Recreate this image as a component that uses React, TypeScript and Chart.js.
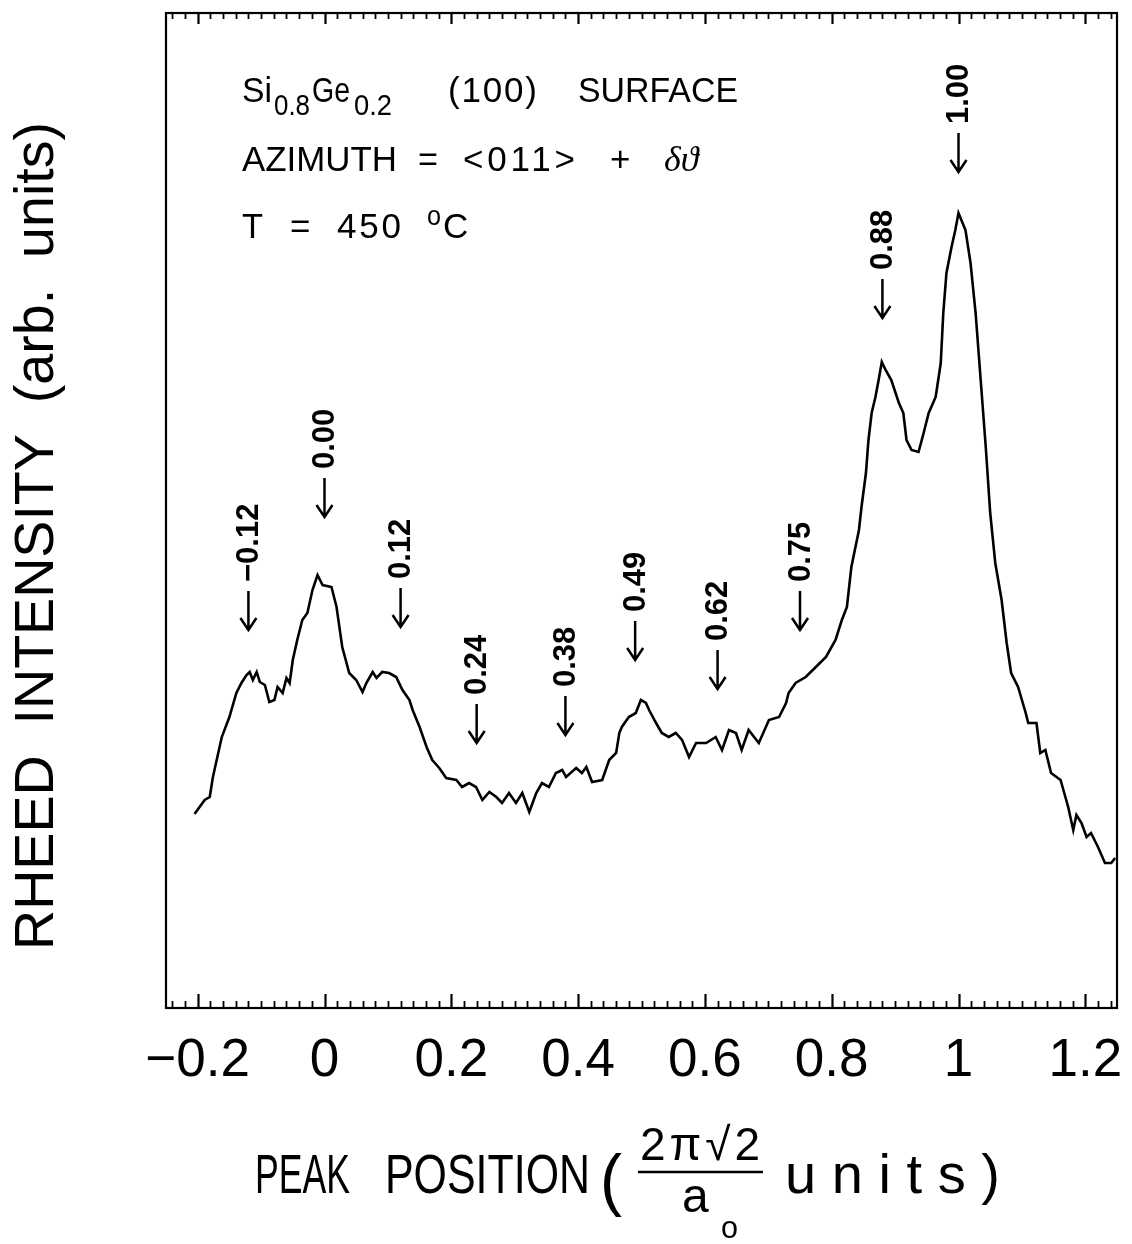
import React, { useEffect, useRef } from "react";
import { Chart, registerables } from "chart.js";

Chart.register(...registerables);

// Peak position (2π√2/a0 units)
const positionX = [
  -0.205, -0.189, -0.181, -0.176, -0.162, -0.15, -0.139, -0.131, -0.123, -0.118,
  -0.113, -0.107, -0.102, -0.094, -0.087, -0.079, -0.074, -0.066, -0.06, -0.055,
  -0.05, -0.043, -0.035, -0.027, -0.019, -0.011, -0.003, 0.011, 0.019, 0.028,
  0.039, 0.05, 0.06, 0.066, 0.076, 0.082, 0.091, 0.102, 0.113, 0.123,
  0.134, 0.139, 0.15, 0.161, 0.17, 0.181, 0.192, 0.208, 0.217, 0.228,
  0.239, 0.249, 0.26, 0.271, 0.28, 0.291, 0.302, 0.312, 0.323, 0.334,
  0.343, 0.354, 0.365, 0.375, 0.381, 0.397, 0.406, 0.413, 0.422, 0.438,
  0.449, 0.46, 0.465, 0.469, 0.48, 0.491, 0.499, 0.507, 0.512, 0.523,
  0.532, 0.543, 0.554, 0.564, 0.575, 0.586, 0.602, 0.617, 0.627, 0.638,
  0.649, 0.658, 0.669, 0.685, 0.701, 0.717, 0.728, 0.732, 0.743, 0.759,
  0.775, 0.791, 0.806, 0.816, 0.824, 0.831, 0.843, 0.847, 0.854, 0.858,
  0.863, 0.869, 0.874, 0.879, 0.885, 0.894, 0.906, 0.913, 0.918, 0.926,
  0.937, 0.945, 0.953, 0.964, 0.972, 0.976, 0.981, 0.989, 0.995, 1.0,
  1.011, 1.019, 1.027, 1.035, 1.043, 1.05, 1.058, 1.068, 1.076, 1.083,
  1.094, 1.106, 1.11, 1.123, 1.129, 1.137, 1.146, 1.161, 1.173, 1.181,
  1.186, 1.194, 1.202, 1.209, 1.22, 1.231, 1.241, 1.247,
];

// RHEED intensity (arb. units)
const intensity = [
  19.4, 20.8, 21.1, 23.1, 27.1, 29.1, 31.5, 32.5, 33.3, 33.6,
  32.8, 33.6, 32.6, 32.3, 30.6, 30.8, 32.1, 31.5, 33.0, 32.5,
  34.8, 36.8, 38.8, 39.5, 41.8, 43.3, 42.3, 42.1, 40.1, 36.1,
  33.5, 32.8, 31.6, 32.5, 33.6, 33.0, 33.6, 33.5, 33.1, 31.8,
  30.8, 29.8, 28.1, 26.1, 24.8, 24.0, 23.0, 22.8, 22.1, 22.5,
  22.1, 20.8, 21.6, 21.1, 20.5, 21.5, 20.5, 21.5, 19.6, 21.5,
  22.5, 22.1, 23.5, 23.8, 23.1, 24.0, 23.5, 24.1, 22.6, 22.8,
  24.8, 25.5, 27.5, 28.1, 29.1, 29.5, 30.8, 30.5, 29.8, 28.5,
  27.5, 27.1, 27.5, 26.8, 25.1, 26.5, 26.5, 27.1, 25.8, 27.8,
  27.5, 25.8, 27.8, 26.5, 28.8, 29.1, 30.5, 31.5, 32.5, 33.1,
  34.1, 35.1, 36.8, 38.8, 40.1, 44.1, 47.8, 50.1, 53.5, 56.8,
  59.5, 61.1, 62.8, 64.6, 63.8, 62.8, 60.5, 59.5, 56.8, 55.8,
  55.6, 57.5, 59.5, 61.1, 64.5, 69.5, 73.5, 76.1, 77.8, 79.5,
  77.8, 74.5, 69.5, 62.8, 56.1, 49.5, 44.5, 40.8, 36.5, 33.5,
  32.1, 29.5, 28.5, 28.5, 25.5, 25.8, 23.5, 22.8, 20.1, 17.8,
  19.3, 18.5, 17.1, 17.5, 16.1, 14.5, 14.5, 15.0,
];

// Marked peak positions, their labels and where each arrow tip sits
const peakPositions = [-0.12, 0.0, 0.12, 0.24, 0.38, 0.49, 0.62, 0.75, 0.88, 1.0];
const peakLabels = ["−0.12", "0.00", "0.12", "0.24", "0.38", "0.49", "0.62", "0.75", "0.88", "1.00"];
const arrowTipLevels = [37.8, 49.1, 38.1, 26.5, 27.3, 34.8, 31.9, 37.8, 69.0, 83.6];

const xMin = -0.25;
const xMax = 1.25;
const yMin = 0;
const yMax = 99.5;
const xMajorStep = 0.2;

function fmtTick(v: number): string {
  const n = Math.round(v * 10) / 10;
  if (Math.abs(n) < 1e-9) return "0";
  const s = String(Math.abs(n));
  return n < 0 ? "−" + s : s;
}

function drawFit(ctx: CanvasRenderingContext2D, text: string, x: number, y: number, width: number, font: string) {
  ctx.font = font;
  const w = ctx.measureText(text).width;
  ctx.save();
  ctx.translate(x, y);
  if (w > width) {
    ctx.scale(width / w, 1);
    ctx.fillText(text, 0, 0);
  } else {
    const n = Array.from(text).length;
    (ctx as any).letterSpacing = (width - w) / Math.max(1, n - 1) + "px";
    ctx.fillText(text, 0, 0);
    (ctx as any).letterSpacing = "0px";
  }
  ctx.restore();
}

const FONT = "'Liberation Sans', Arial, sans-serif";

const decorPlugin = {
  id: "decor",
  afterDatasetsDraw(chart: any) {
    const { ctx, chartArea: a, scales } = chart;
    const xs = scales.x;
    const ys = scales.y;
    ctx.save();
    ctx.strokeStyle = "#000";
    ctx.fillStyle = "#000";
    ctx.lineCap = "butt";

    // frame
    ctx.lineWidth = 2.2;
    ctx.strokeRect(a.left, a.top, a.right - a.left, a.bottom - a.top);

    // inward ticks on bottom and top
    for (let i = -12; i <= 62; i++) {
      const v = i * 0.02;
      if (v < xMin || v > xMax) continue;
      const px = Math.round(xs.getPixelForValue(v)) + 0.5;
      const major = i % 10 === 0;
      ctx.lineWidth = major ? 2.2 : 1.8;
      ctx.beginPath();
      ctx.moveTo(px, a.bottom);
      ctx.lineTo(px, a.bottom - (major ? 14 : 7));
      ctx.moveTo(px, a.top);
      ctx.lineTo(px, a.top + (major ? 11 : 6));
      ctx.stroke();
    }

    // peak arrows with rotated labels
    ctx.font = "bold 31px " + FONT;
    peakPositions.forEach((p, k) => {
      const px = xs.getPixelForValue(p);
      const py = ys.getPixelForValue(arrowTipLevels[k]);
      ctx.lineWidth = 2.5;
      ctx.beginPath();
      ctx.moveTo(px, py);
      ctx.lineTo(px, py - 39);
      ctx.moveTo(px - 8, py - 12);
      ctx.lineTo(px, py);
      ctx.lineTo(px + 8, py - 12);
      ctx.stroke();
      ctx.save();
      ctx.translate(px + 1, py - 48);
      ctx.rotate(-Math.PI / 2);
      ctx.textAlign = "left";
      ctx.textBaseline = "middle";
      ctx.fillText(peakLabels[k], 0, 0);
      ctx.restore();
    });

    // sample description (top left)
    const L = a.left;
    const T = a.top;
    const main = "35px " + FONT;
    const sub = "30px " + FONT;
    ctx.textAlign = "left";
    ctx.textBaseline = "alphabetic";
    const b1 = T + 89;
    drawFit(ctx, "Si", L + 76, b1, 30, main);
    drawFit(ctx, "0.8", L + 108, b1 + 13, 36, sub);
    drawFit(ctx, "Ge", L + 146, b1, 38, main);
    drawFit(ctx, "0.2", L + 188, b1 + 13, 38, sub);
    drawFit(ctx, "(100)", L + 282, b1, 89, main);
    drawFit(ctx, "SURFACE", L + 412, b1, 160, main);

    const b2 = T + 158;
    drawFit(ctx, "AZIMUTH", L + 76, b2, 155, main);
    drawFit(ctx, "=", L + 252, b2, 20, main);
    drawFit(ctx, "<011>", L + 297, b2, 112, main);
    drawFit(ctx, "+", L + 444, b2, 21, main);
    ctx.font = "italic 36px 'Liberation Serif', serif";
    ctx.fillText("δϑ", L + 498, b2);

    const b3 = T + 225;
    drawFit(ctx, "T", L + 76, b3, 21, main);
    drawFit(ctx, "=", L + 124, b3, 21, main);
    drawFit(ctx, "450", L + 171, b3, 64, main);
    drawFit(ctx, "o", L + 261, b3 - 13, 14, "27px " + FONT);
    drawFit(ctx, "C", L + 277, b3, 31, main);

    // y-axis title
    ctx.save();
    ctx.translate(38, 950);
    ctx.rotate(-Math.PI / 2);
    ctx.textBaseline = "middle";
    drawFit(ctx, "RHEED  INTENSITY  (arb.  units)", 0, 0, 828, "56px " + FONT);
    ctx.restore();

    // x-axis title
    const big = "56px " + FONT;
    ctx.textBaseline = "alphabetic";
    const bx = a.bottom + 185;
    drawFit(ctx, "PEAK", 255, bx, 95, big);
    drawFit(ctx, "POSITION", 385, bx, 205, big);
    drawFit(ctx, "(", 600, bx + 10, 22, "68px " + FONT);
    drawFit(ctx, "2π√2", 640, bx - 33, 120, "46px " + FONT);
    ctx.lineWidth = 2.6;
    ctx.beginPath();
    ctx.moveTo(638, bx - 21);
    ctx.lineTo(763, bx - 21);
    ctx.stroke();
    drawFit(ctx, "a", 682, bx + 19, 34, "48px " + FONT);
    drawFit(ctx, "o", 721, bx + 45, 17, "32px " + FONT);
    drawFit(ctx, "units)", 785, bx, 215, big);

    ctx.restore();
  },
};

export default function App() {
  const canvasRef = useRef<HTMLCanvasElement | null>(null);

  useEffect(() => {
    document.body.style.margin = "0";
    const canvas = canvasRef.current;
    if (!canvas) return;
    const points = positionX.map((x, i) => ({ x, y: intensity[i] }));
    const chart = new Chart(canvas, {
      type: "line",
      data: {
        datasets: [
          {
            data: points,
            borderColor: "#000",
            borderWidth: 2.6,
            pointRadius: 0,
            tension: 0,
            fill: false,
          },
        ],
      },
      options: {
        animation: false,
        responsive: false,
        maintainAspectRatio: false,
        devicePixelRatio: 1,
        parsing: false as any,
        layout: { padding: { top: 13, right: 15, left: 0, bottom: 0 } },
        plugins: { legend: { display: false }, tooltip: { enabled: false }, title: { display: false } },
        scales: {
          x: {
            type: "linear",
            min: xMin,
            max: xMax,
            grid: { display: false, drawTicks: false },
            border: { display: false },
            ticks: {
              stepSize: xMajorStep,
              includeBounds: false,
              autoSkip: false,
              maxRotation: 0,
              padding: 22,
              color: "#000",
              font: { family: FONT, size: 53 },
              callback: (v: any) => fmtTick(Number(v)),
            },
            afterFit: (s: any) => {
              s.height = 236;
              s.paddingLeft = 0;
              s.paddingRight = 0;
            },
          },
          y: {
            type: "linear",
            min: yMin,
            max: yMax,
            grid: { display: false, drawTicks: false },
            border: { display: false },
            ticks: { display: false },
            afterFit: (s: any) => {
              s.width = 166;
              s.paddingTop = 0;
              s.paddingBottom = 0;
            },
          },
        },
      },
      plugins: [decorPlugin],
    });
    return () => chart.destroy();
  }, []);

  return (
    <div style={{ width: 1132, height: 1244, background: "#fff" }}>
      <canvas ref={canvasRef} width={1132} height={1244} style={{ display: "block" }} />
    </div>
  );
}
